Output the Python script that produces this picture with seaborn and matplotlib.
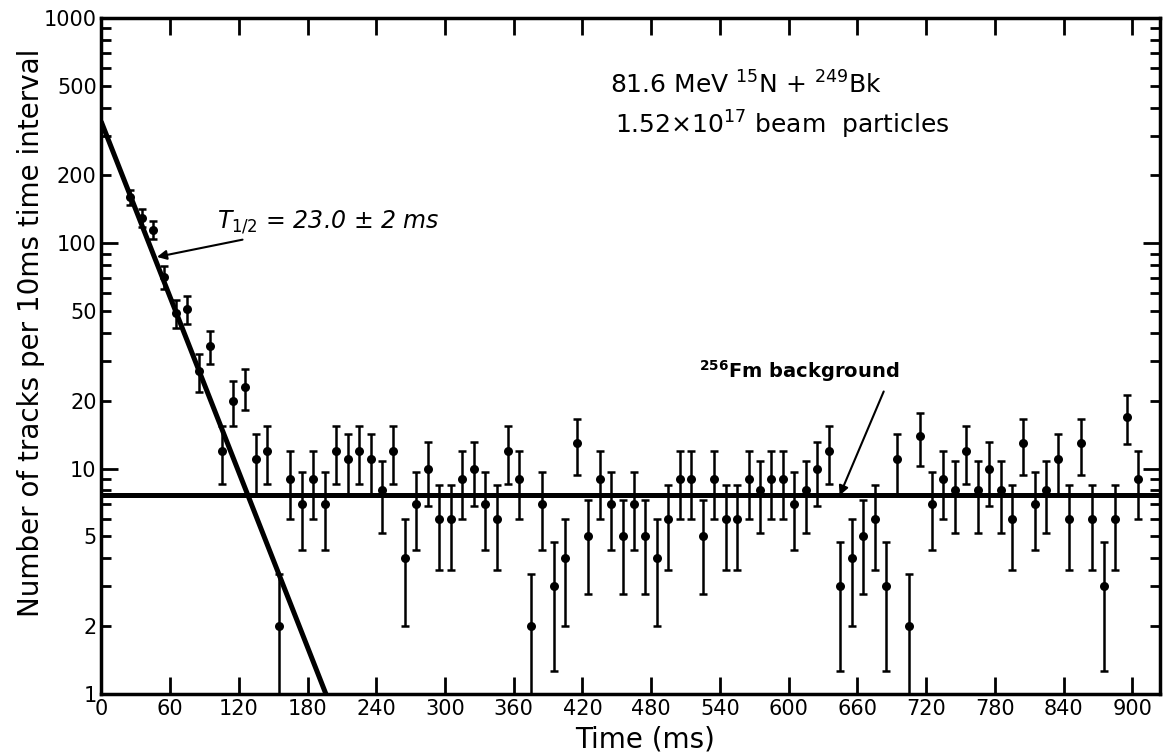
import numpy as np
import pandas as pd
import matplotlib
matplotlib.use('Agg')
import matplotlib.pyplot as plt
import matplotlib.ticker as mticker
import seaborn as sns

# decay of 81.6 MeV 15N + 249Bk: tracks per 10 ms bin
time_ms = [25, 35, 45, 55, 65, 75, 85, 95, 105, 115,
           125, 135, 145, 155, 165, 175, 185, 195, 205, 215,
           225, 235, 245, 255, 265, 275, 285, 295, 305, 315,
           325, 335, 345, 355, 365, 375, 385, 395, 405, 415,
           425, 435, 445, 455, 465, 475, 485, 495, 505, 515,
           525, 535, 545, 555, 565, 575, 585, 595, 605, 615,
           625, 635, 645, 655, 665, 675, 685, 695, 705, 715,
           725, 735, 745, 755, 765, 775, 785, 795, 805, 815,
           825, 835, 845, 855, 865, 875, 885, 895, 905]
counts = [160, 130, 115, 71, 49, 51, 27, 35, 12, 20,
          23, 11, 12, 2, 9, 7, 9, 7, 12, 11,
          12, 11, 8, 12, 4, 7, 10, 6, 6, 9,
          10, 7, 6, 12, 9, 2, 7, 3, 4, 13,
          5, 9, 7, 5, 7, 5, 4, 6, 9, 9,
          5, 9, 6, 6, 9, 8, 9, 9, 7, 8,
          10, 12, 3, 4, 5, 6, 3, 11, 2, 14,
          7, 9, 8, 12, 8, 10, 8, 6, 13, 7,
          8, 11, 6, 13, 6, 3, 6, 17, 9]

# fitted lines (end points)
fit_t = [0, 196]
fit_n = [345, 1]
bg_t = [0, 930]
bg_n = [7.6, 7.6]

x_ticks = [0, 60, 120, 180, 240, 300, 360, 420, 480, 540, 600, 660, 720, 780, 840, 900]
y_labels = [1, 2, 5, 10, 20, 50, 100, 200, 500, 1000]

df = pd.DataFrame({'t': time_ms, 'n': counts})
df['err'] = np.sqrt(df['n'])  # poisson errors

sns.set_style("ticks")
plt.rcParams['font.family'] = ['DejaVu Sans']
plt.rcParams['mathtext.default'] = 'regular'
for k in ['text.color', 'axes.labelcolor', 'xtick.color', 'ytick.color', 'axes.edgecolor']:
    plt.rcParams[k] = 'black'

fig = plt.figure(figsize=(11.63, 7.53), dpi=100)
ax = fig.add_axes([0.0872, 0.0784, 0.910, 0.8977])

# error bars + points
ax.errorbar(df['t'], df['n'], yerr=df['err'], fmt='none', ecolor='black',
            elinewidth=1.8, capsize=3, capthick=1.8, zorder=3)
sns.scatterplot(data=df, x='t', y='n', color='black', s=42, edgecolor='black',
                linewidth=0, zorder=4, ax=ax)

# decay fit and background
sns.lineplot(x=fit_t, y=fit_n, color='black', linewidth=3.6, ax=ax, zorder=2)
sns.lineplot(x=bg_t, y=bg_n, color='black', linewidth=3.6, ax=ax, zorder=2)

ax.set_yscale('log')
ax.set_xlim(0, 924)
ax.set_ylim(1, 1000)

ax.set_xticks(x_ticks)
ax.set_xticklabels([str(v) for v in x_ticks], fontsize=15)
ax.yaxis.set_major_locator(mticker.FixedLocator([1, 10, 100, 1000]))
ax.yaxis.set_minor_locator(mticker.LogLocator(base=10, subs=np.arange(2, 10)))
ax.yaxis.set_major_formatter(mticker.FuncFormatter(lambda v, p: f'{int(round(v))}'))
ax.yaxis.set_minor_formatter(mticker.FuncFormatter(
    lambda v, p: f'{int(round(v))}' if int(round(v)) in y_labels else ''))
ax.tick_params(axis='y', which='both', labelsize=15)

ax.tick_params(which='both', direction='in', top=True, right=True, width=2, color='black')
ax.tick_params(which='major', length=12)
ax.tick_params(which='minor', length=7)
for s in ax.spines.values():
    s.set_linewidth(2.5)

ax.set_xlabel('Time (ms)', fontsize=20)
ax.set_ylabel('Number of tracks per 10ms time interval', fontsize=20)
ax.xaxis.label.set_va('center')
ax.xaxis.set_label_coords(0.514, -0.068)
ax.yaxis.set_label_coords(-0.053, 0.535)

# annotations
ax.text(444, 505, r'81.6 MeV $^{15}$N + $^{249}$Bk', fontsize=18, va='center', ha='left')
ax.text(448, 335, r'1.52$\times$10$^{17}$ beam  particles', fontsize=18, va='center', ha='left')

ax.annotate(r'$\mathit{T}_{\mathit{1/2}}$ = 23.0 ± 2 ms', style='italic',
            xy=(48.5, 87), xytext=(101, 124), fontsize=17, va='center', ha='left',
            arrowprops=dict(arrowstyle='-|>', color='black', lw=1.5,
                            shrinkA=2, shrinkB=0, mutation_scale=14))
ax.text(522, 27, r'$^{256}$Fm background', fontsize=14, fontweight='bold',
        va='center', ha='left')
ax.annotate('', xy=(644.5, 7.6), xytext=(683, 22),
            arrowprops=dict(arrowstyle='-|>', color='black', lw=1.5,
                            shrinkA=0, shrinkB=0, mutation_scale=14))

fig.savefig('out.png', dpi=100)
